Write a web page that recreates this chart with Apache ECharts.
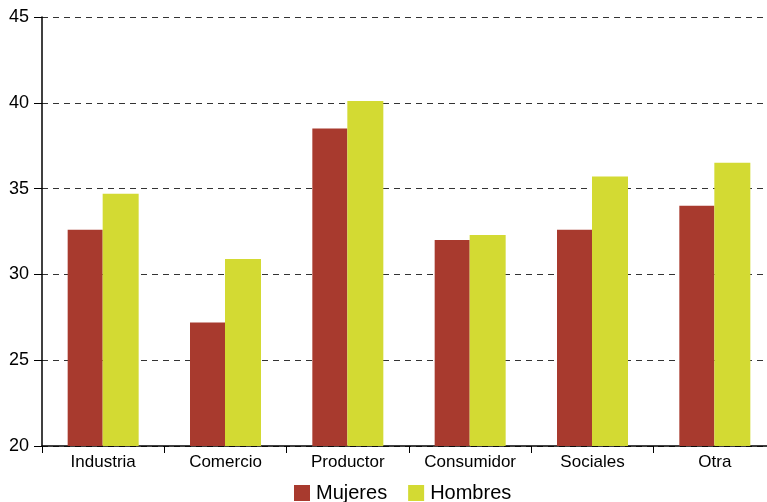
<!DOCTYPE html>
<html>
<head>
<meta charset="utf-8">
<script src="https://cdn.jsdelivr.net/npm/echarts@6/dist/echarts.min.js"></script>
<style>
  html, body { margin: 0; padding: 0; background: #fff; overflow: hidden; }
  /* the plot runs slightly past the right edge of the page */
  #chart { width: 776px; height: 502px; }
</style>
</head>
<body>
<div id="chart"></div>
<script>
// Sectores y valores por sexo
const categories = ['Industria', 'Comercio', 'Productor', 'Consumidor', 'Sociales', 'Otra'];
const mujeres = [32.6, 27.2, 38.5, 32.0, 32.6, 34.0];
const hombres = [34.7, 30.9, 40.1, 32.3, 35.7, 36.5];
const yTicks = [20, 25, 30, 35, 40, 45];

const chart = echarts.init(document.getElementById('chart'), null, { renderer: 'canvas' });

const fontFamily = '"Liberation Sans", Arial, Helvetica, sans-serif';

chart.setOption({
  animation: false,
  grid: { left: 42, right: 0, top: 17, bottom: 56, containLabel: false },
  legend: {
    top: 483,
    left: 294,
    padding: 0,
    itemWidth: 16,
    itemHeight: 16,
    itemGap: 21,
    icon: 'rect',
    textStyle: { fontFamily, fontSize: 20, color: '#000', padding: [0, 0, 0, 1] },
    data: ['Mujeres', 'Hombres']
  },
  xAxis: {
    type: 'category',
    data: categories,
    axisLine: { lineStyle: { color: '#000', width: 1.5 } },
    axisTick: { show: true, interval: 0, length: 7, lineStyle: { color: '#000' } },
    axisLabel: { interval: 0, hideOverlap: false, fontFamily, fontSize: 17, color: '#000', margin: 8 }
  },
  yAxis: {
    type: 'value',
    min: yTicks[0],
    max: yTicks[yTicks.length - 1],
    interval: 5,
    axisLine: { show: true, lineStyle: { color: '#000', width: 1.5 } },
    axisTick: { show: true, length: 8, lineStyle: { color: '#000' } },
    axisLabel: { fontFamily, fontSize: 18, color: '#000', margin: 13 },
    splitLine: { show: true, lineStyle: { color: '#333', type: [6, 5], width: 1 } }
  },
  series: [
    {
      name: 'Mujeres',
      type: 'bar',
      data: mujeres,
      barWidth: 35,
      barGap: '0%',
      itemStyle: { color: '#a83a2e' }
    },
    {
      name: 'Hombres',
      type: 'bar',
      data: hombres,
      barWidth: 36,
      barGap: '0%',
      itemStyle: { color: '#d3da33' }
    }
  ]
});
</script>
</body>
</html>
